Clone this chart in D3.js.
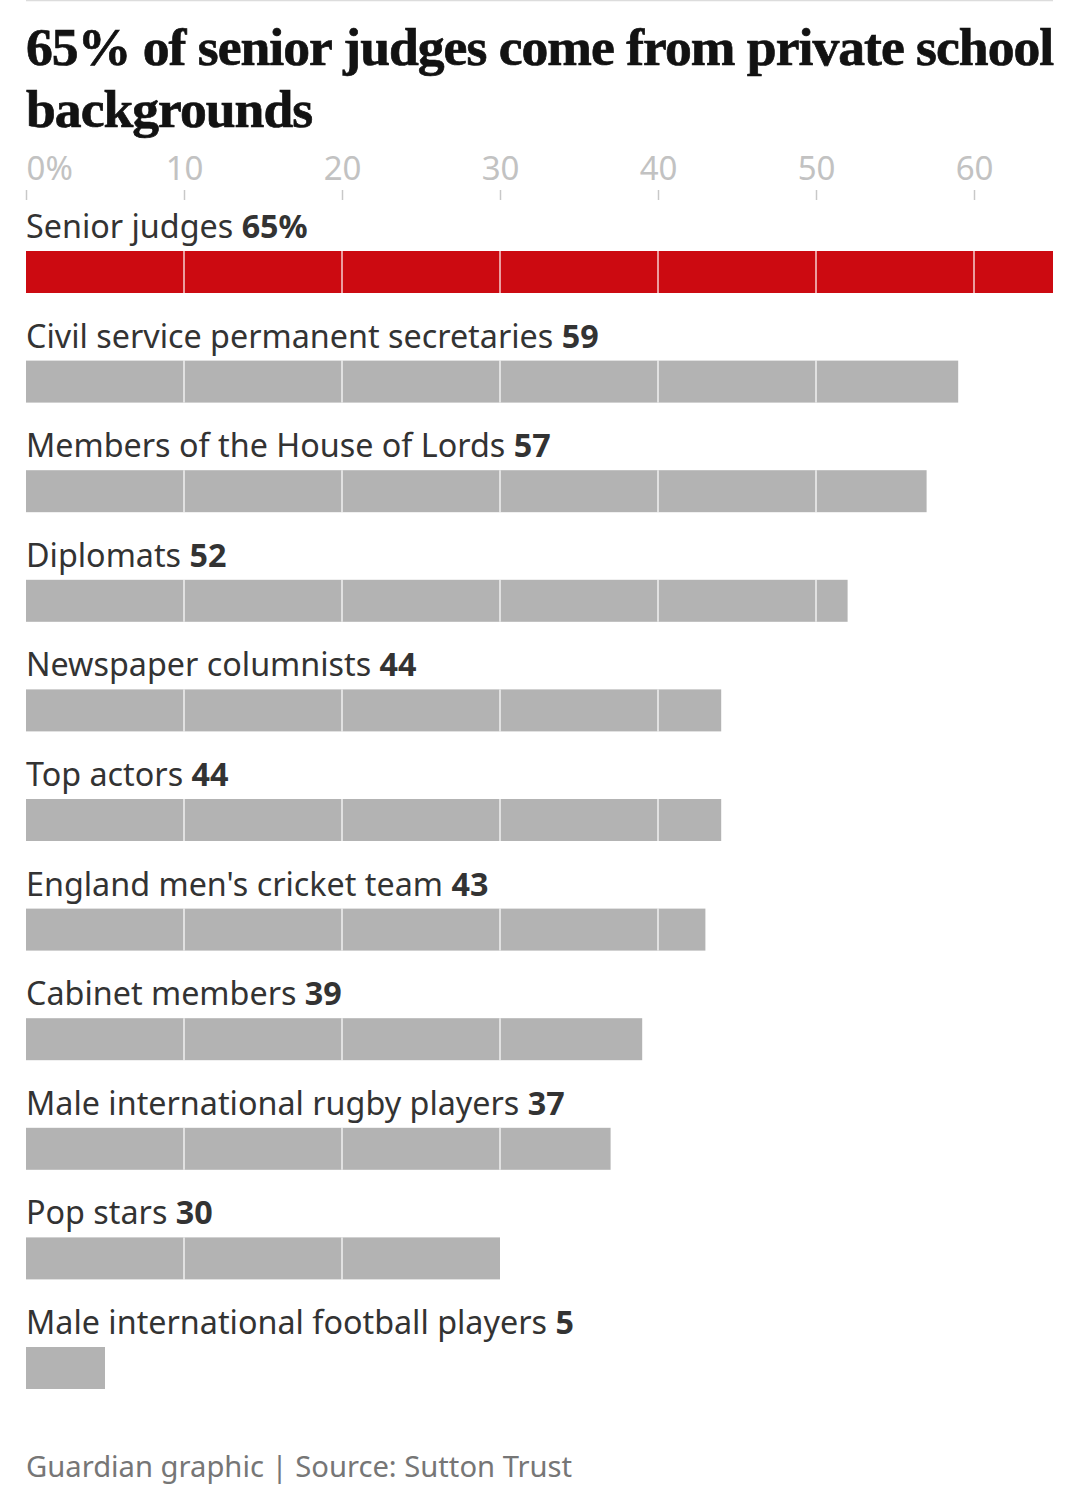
<!DOCTYPE html>
<html>
<head>
<meta charset="utf-8">
<script src="https://cdn.jsdelivr.net/npm/d3@7"></script>
<style>
  body { margin: 0; background: #fff; }
  svg { display: block; }
</style>
</head>
<body>
<svg id="chart"></svg>
<script>
const categories = [
  'Senior judges',
  'Civil service permanent secretaries',
  'Members of the House of Lords',
  'Diplomats',
  'Newspaper columnists',
  'Top actors',
  "England men's cricket team",
  'Cabinet members',
  'Male international rugby players',
  'Pop stars',
  'Male international football players',
];
const values = [65, 59, 57, 52, 44, 44, 43, 39, 37, 30, 5];
const tickValues = [0, 10, 20, 30, 40, 50, 60];
const titleLines = ['65% of senior judges come from private school', 'backgrounds'];
const source = 'Guardian graphic | Source: Sutton Trust';

const width = 1080;
const height = 1498;
const left = 26;
const right = 1053;

const svg = d3.select('#chart').attr('width', width).attr('height', height);

// thin rule at the very top
svg.append('line')
  .attr('x1', left).attr('x2', right)
  .attr('y1', 0.5).attr('y2', 0.5)
  .attr('stroke', '#dcdcdc')
  .attr('stroke-width', 1.5);

// title, sized so the first line spans the chart width
const title = svg.append('g')
  .attr('font-family', '"Liberation Serif", "DejaVu Serif", serif')
  .attr('font-weight', 700)
  .attr('letter-spacing', -1)
  .attr('fill', '#121212')
  .attr('stroke', '#121212')
  .attr('stroke-width', 0.7);
const t1 = title.append('text')
  .attr('x', left).attr('y', 65)
  .attr('font-size', 48)
  .text(titleLines[0]);
let fs = 48;
for (let k = 0; k < 4; k++) {
  const w1 = t1.node().getComputedTextLength();
  fs = fs * (right - left) / w1;
  t1.attr('font-size', fs);
}
title.append('text')
  .attr('x', left).attr('y', 127)
  .attr('font-size', fs)
  .text(titleLines[1]);

const x = d3.scaleLinear().domain([0, 65]).range([left, right]);
const y = d3.scaleBand()
  .domain(categories)
  .range([200, 200 + 109.6 * categories.length])
  .paddingInner(0);

// axis on top
const axis = d3.axisTop(x)
  .tickValues(tickValues)
  .tickSize(10)
  .tickFormat((d) => (d === 0 ? '0%' : d));

const axisG = svg.append('g')
  .attr('transform', 'translate(0,200)')
  .call(axis);
axisG.select('.domain').remove();
axisG.selectAll('.tick line').attr('stroke', '#c8c8c8').attr('stroke-width', 1.5);
axisG.selectAll('.tick text')
  .attr('fill', '#c2c2c2')
  .attr('font-family', '"Noto Sans", sans-serif')
  .attr('font-size', 33)
  .attr('dy', 0)
  .attr('y', -20)
  .attr('text-anchor', (d) => (d === 0 ? 'start' : 'middle'));

const barH = 42;
const rows = svg.append('g')
  .selectAll('g')
  .data(categories)
  .join('g')
  .attr('transform', (d) => `translate(0,${y(d)})`);

rows.append('text')
  .attr('x', left)
  .attr('y', 38)
  .attr('font-family', '"Noto Sans", sans-serif')
  .attr('font-size', 32.3)
  .attr('fill', '#333')
  .call((t) => t.append('tspan').text((d) => d + ' '))
  .call((t) => t.append('tspan')
    .attr('font-weight', 700)
    .text((d, i) => values[i] + (i === 0 ? '%' : '')));

rows.append('rect')
  .attr('x', x(0))
  .attr('y', 51)
  .attr('height', barH)
  .attr('width', (d, i) => x(values[i]) - x(0))
  .attr('fill', (d, i) => (i === 0 ? '#cc0a11' : '#b3b3b3'));

// white gridlines cutting through the bars
rows.each(function (d, i) {
  d3.select(this).selectAll('line.grid')
    .data(tickValues.filter((v) => v > 0 && v < values[i]))
    .join('line')
    .attr('class', 'grid')
    .attr('x1', (v) => x(v)).attr('x2', (v) => x(v))
    .attr('y1', 51).attr('y2', 51 + barH)
    .attr('stroke', '#fff')
    .attr('stroke-opacity', 0.6)
    .attr('stroke-width', 2);
});

svg.append('text')
  .attr('x', left)
  .attr('y', 1477)
  .attr('font-family', '"Noto Sans", sans-serif')
  .attr('font-size', 29.2)
  .attr('fill', '#767676')
  .text(source);
</script>
</body>
</html>
